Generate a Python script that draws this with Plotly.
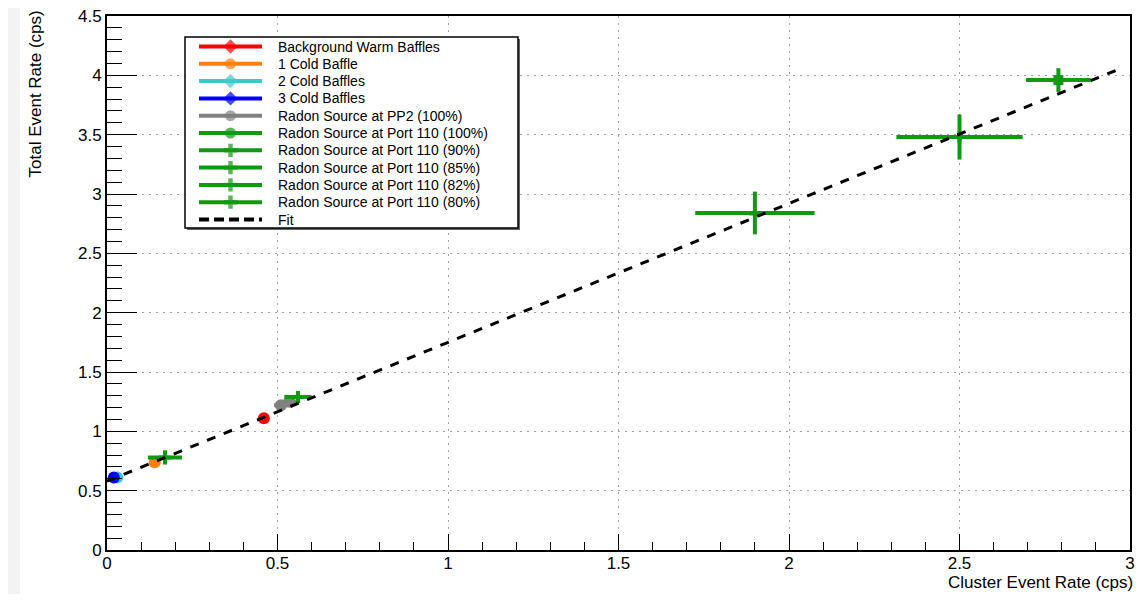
import plotly.graph_objects as go

# ---- data ----
names = [
    "Background Warm Baffles",
    "1 Cold Baffle",
    "2 Cold Baffles",
    "3 Cold Baffles",
    "Radon Source at PP2 (100%)",
    "Radon Source at Port 110 (100%)",
    "Radon Source at Port 110 (90%)",
    "Radon Source at Port 110 (85%)",
    "Radon Source at Port 110 (82%)",
    "Radon Source at Port 110 (80%)",
]
colors = ["#ff0000", "#ff7f0e", "#40c8c8", "#0000ff", "#808080",
          "#119911", "#119911", "#119911", "#119911", "#119911"]
legend_symbols = ["diamond", "circle", "diamond", "diamond", "circle",
                  "circle", "cross", "cross", "cross", "cross"]
plot_symbols = ["circle", "circle", "circle", "circle", "circle",
                "square", "cross", "triangle-up", "cross", "cross"]

x_vals = [[0.46], [0.14], [0.03], [0.02], [0.51, 0.535],
          [2.79], [2.50], [1.90], [0.56], [0.17]]
y_vals = [[1.11], [0.74], [0.61], [0.61], [1.22, 1.25],
          [3.96], [3.48], [2.84], [1.29], [0.78]]
x_err = [[0.0], [0.0], [0.0], [0.0], [0.02, 0.02],
         [0.095], [0.185], [0.175], [0.04], [0.05]]
y_err = [[0.0], [0.0], [0.0], [0.0], [0.03, 0.03],
         [0.10], [0.19], [0.18], [0.05], [0.06]]

x_range = [0, 3]
y_range = [0, 4.5]

fit_x = [0.0, 2.98]
fit_intercept = 0.58
fit_slope = 1.17
fit_y = [fit_intercept + fit_slope * v for v in fit_x]

FONT = "Liberation Sans, Arial, sans-serif"

# page geometry: the page body adds an 8 px margin and clips at 1136 px
OFF = 8
W, H = 1144 - 2 * OFF, 602 - 2 * OFF
PL, PR, PT, PB = 107, 1130, 16, 550          # plot area in page pixels
L, R, T, B = PL - OFF, (W + OFF) - PR, PT - OFF, (H + OFF) - PB
pw, ph = PR - PL, PB - PT


def px_x(p):
    return (p - PL) / pw


def px_y(p):
    return (PB - p) / ph


def dx(p):  # page pixel -> data x
    return x_range[0] + px_x(p) * (x_range[1] - x_range[0])


def dy(p):  # page pixel -> data y
    return y_range[0] + px_y(p) * (y_range[1] - y_range[0])


fig = go.Figure()

# data traces
for i in range(len(names)):
    fig.add_trace(go.Scatter(
        x=x_vals[i], y=y_vals[i], mode="markers", name=names[i],
        marker=dict(color=colors[i], size=12 if i < 5 else 10,
                    symbol=plot_symbols[i], line=dict(width=0)),
        error_x=dict(type="data", array=x_err[i], visible=True,
                     color=colors[i], thickness=4, width=0),
        error_y=dict(type="data", array=y_err[i], visible=True,
                     color=colors[i], thickness=4, width=0),
        showlegend=False,
    ))

# fit line
fig.add_trace(go.Scatter(
    x=fit_x, y=fit_y, mode="lines", name="Fit",
    line=dict(color="black", width=3, dash="dash"),
    showlegend=False,
))

# ---- legend box (positions in page pixels) ----
LEG_X0, LEG_X1, LEG_Y0, LEG_Y1 = 185, 518, 37, 228
ROW0, ROW_STEP = 46.5, 17.3
SAMPLE_X0, SAMPLE_X1, TEXT_X = 199, 262, 276

legend_labels = names + ["Fit"]
shapes = [
    dict(type="rect", xref="paper", yref="paper", layer="below",
         x0=px_x(OFF), x1=px_x(20), y0=px_y(H + OFF), y1=px_y(OFF),
         fillcolor="#f3f3f3", line=dict(width=0)),
    dict(type="rect", xref="x", yref="y", layer="between",
         x0=dx(LEG_X0 + 2), x1=dx(LEG_X1 + 2),
         y0=dy(LEG_Y0 + 2), y1=dy(LEG_Y1 + 2),
         fillcolor="#666666", line=dict(width=0)),
    dict(type="rect", xref="x", yref="y", layer="between",
         x0=dx(LEG_X0), x1=dx(LEG_X1), y0=dy(LEG_Y0), y1=dy(LEG_Y1),
         fillcolor="white", line=dict(color="black", width=1.5)),
]
annotations = []
for k, lab in enumerate(legend_labels):
    yy = ROW0 + ROW_STEP * k
    annotations.append(dict(
        text=lab, xref="x", yref="y", x=dx(TEXT_X), y=dy(yy),
        xanchor="left", yanchor="middle", showarrow=False,
        font=dict(size=14, family=FONT, color="black")))
    if k < len(names):
        fig.add_trace(go.Scatter(
            x=[dx(SAMPLE_X0), dx((SAMPLE_X0 + SAMPLE_X1) / 2), dx(SAMPLE_X1)],
            y=[dy(yy)] * 3,
            mode="lines+markers", showlegend=False, hoverinfo="skip",
            line=dict(color=colors[k], width=4),
            marker=dict(color=colors[k], size=[0, 11, 0],
                        symbol=legend_symbols[k], line=dict(width=0)),
        ))
    else:
        fig.add_trace(go.Scatter(
            x=[dx(SAMPLE_X0), dx(SAMPLE_X1)], y=[dy(yy)] * 2,
            mode="lines", showlegend=False, hoverinfo="skip",
            line=dict(color="black", width=4, dash="10px,5px"),
        ))

annotations += [
    dict(text="Total Event Rate (cps)", textangle=-90,
         xref="paper", yref="paper", x=px_x(35), y=px_y(9),
         xanchor="center", yanchor="top", showarrow=False,
         font=dict(size=17, family=FONT)),
    dict(text="Cluster Event Rate (cps)",
         xref="paper", yref="paper", x=px_x(1135), y=px_y(594),
         xanchor="right", yanchor="bottom", showarrow=False,
         font=dict(size=17, family=FONT)),
]

fig.update_layout(
    width=W, height=H,
    margin=dict(l=L, r=R, t=T, b=B, pad=0, autoexpand=False),
    paper_bgcolor="white", plot_bgcolor="white",
    font=dict(family=FONT, color="black", size=17),
    showlegend=False,
    xaxis=dict(
        range=x_range, dtick=0.5, tick0=0, automargin=False,
        ticklabeloverflow="allow", ticklabelstandoff=-3,
        ticks="inside", ticklen=16, tickwidth=1, tickcolor="black",
        minor=dict(dtick=0.1, ticks="inside", ticklen=8, tickcolor="black",
                   showgrid=False),
        showgrid=True, gridcolor="#a0a0a0", griddash="2px,5px", gridwidth=1,
        showline=True, linecolor="black", linewidth=2, mirror=True,
        zeroline=False, tickfont=dict(size=17, family=FONT),
    ),
    yaxis=dict(
        range=y_range, dtick=0.5, tick0=0, automargin=False,
        ticklabeloverflow="allow",
        ticks="inside", ticklen=30, tickwidth=1, tickcolor="black",
        minor=dict(dtick=0.1, ticks="inside", ticklen=15, tickcolor="black",
                   showgrid=False),
        showgrid=True, gridcolor="#a0a0a0", griddash="2px,5px", gridwidth=1,
        showline=True, linecolor="black", linewidth=2, mirror=True,
        zeroline=False, tickfont=dict(size=17, family=FONT),
    ),
    shapes=shapes,
    annotations=annotations,
)

fig.write_html("out.html")
